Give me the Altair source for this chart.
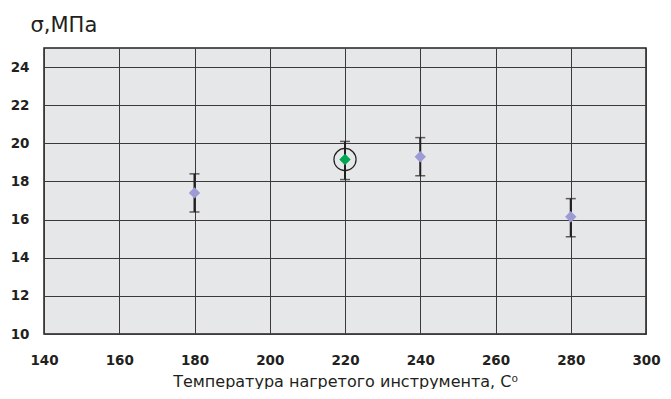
import altair as alt
import pandas as pd

temps = [180, 220, 240, 280]
sigma = [17.4, 19.15, 19.3, 16.15]
err_lo = [16.4, 18.1, 18.3, 15.1]
err_hi = [18.4, 20.1, 20.3, 17.1]
kind = ["other", "best", "other", "other"]
x_ticks = [140, 160, 180, 200, 220, 240, 260, 280, 300]
y_grid = [10, 11, 12, 13, 14, 15, 16, 17, 18, 19, 20, 21, 22, 23, 24, 25]

df = pd.DataFrame(dict(t=temps, s=sigma, lo=err_lo, hi=err_hi, kind=kind))

FONT = "DejaVu Sans"
DARK = "#231f20"
GRID = "#3a3a3a"

xs = alt.Scale(domain=[140, 300], nice=False, zero=False)
ys = alt.Scale(domain=[10, 25], nice=False, zero=False)

xax = alt.Axis(
    values=x_ticks, grid=True, gridColor=GRID, gridWidth=1, gridOpacity=1,
    domain=False, ticks=False, labelPadding=19, labelFlush=False, labelBound=False,
    labelFont=FONT, labelFontSize=13.5, labelFontWeight="bold", labelColor=DARK,
    title="Температура нагретого инструмента, С⁰", titleFont=FONT, titleFontSize=16,
    titleFontWeight="normal", titleColor=DARK, titleY=52, titleBaseline="alphabetic",
)
yax = alt.Axis(
    values=y_grid, grid=True, gridColor=GRID, gridWidth=1, gridOpacity=1,
    domain=False, ticks=False, labelPadding=15,
    labelExpr="datum.value % 2 == 0 && datum.value < 25 ? datum.label : ''",
    labelFont=FONT, labelFontSize=13.5, labelFontWeight="bold", labelColor=DARK,
    title="σ,МПа", titleFont=FONT, titleFontSize=21, titleFontWeight="normal",
    titleColor=DARK, titleAngle=0, titleX=-14, titleY=-17, titleAlign="left",
    titleBaseline="alphabetic",
)

base = alt.Chart(df)

rules = base.mark_rule(color=DARK, strokeWidth=2).encode(
    x=alt.X("t:Q", scale=xs, axis=xax),
    y=alt.Y("lo:Q", scale=ys, axis=yax),
    y2="hi:Q",
)
cap_lo = base.mark_tick(color=DARK, orient="horizontal", size=10, thickness=1.5).encode(
    x=alt.X("t:Q", scale=xs), y=alt.Y("lo:Q", scale=ys)
)
cap_hi = base.mark_tick(color=DARK, orient="horizontal", size=10, thickness=1.5).encode(
    x=alt.X("t:Q", scale=xs), y=alt.Y("hi:Q", scale=ys)
)
points = base.mark_point(shape="diamond", filled=True, size=130, opacity=1).encode(
    x=alt.X("t:Q", scale=xs),
    y=alt.Y("s:Q", scale=ys),
    color=alt.Color("kind:N", scale=alt.Scale(domain=["best", "other"], range=["#00a651", "#9d9bd6"]), legend=None),
)
ring = base.transform_filter(alt.datum.kind == "best").mark_point(
    shape="circle", filled=False, size=490, color=DARK, strokeWidth=1.2, opacity=1
).encode(x=alt.X("t:Q", scale=xs), y=alt.Y("s:Q", scale=ys))

chart = alt.layer(rules, cap_lo, cap_hi, points, ring).properties(
    width=602, height=286,
    autosize=alt.AutoSizeParams(type="none"),
    padding={"left": 36, "top": 40, "right": 17, "bottom": 55},
    background="white",
).configure_view(fill="#e6e7e8", stroke=DARK, strokeWidth=1.5)

chart.save("out.html", embed_options={"renderer": "svg", "actions": False})
